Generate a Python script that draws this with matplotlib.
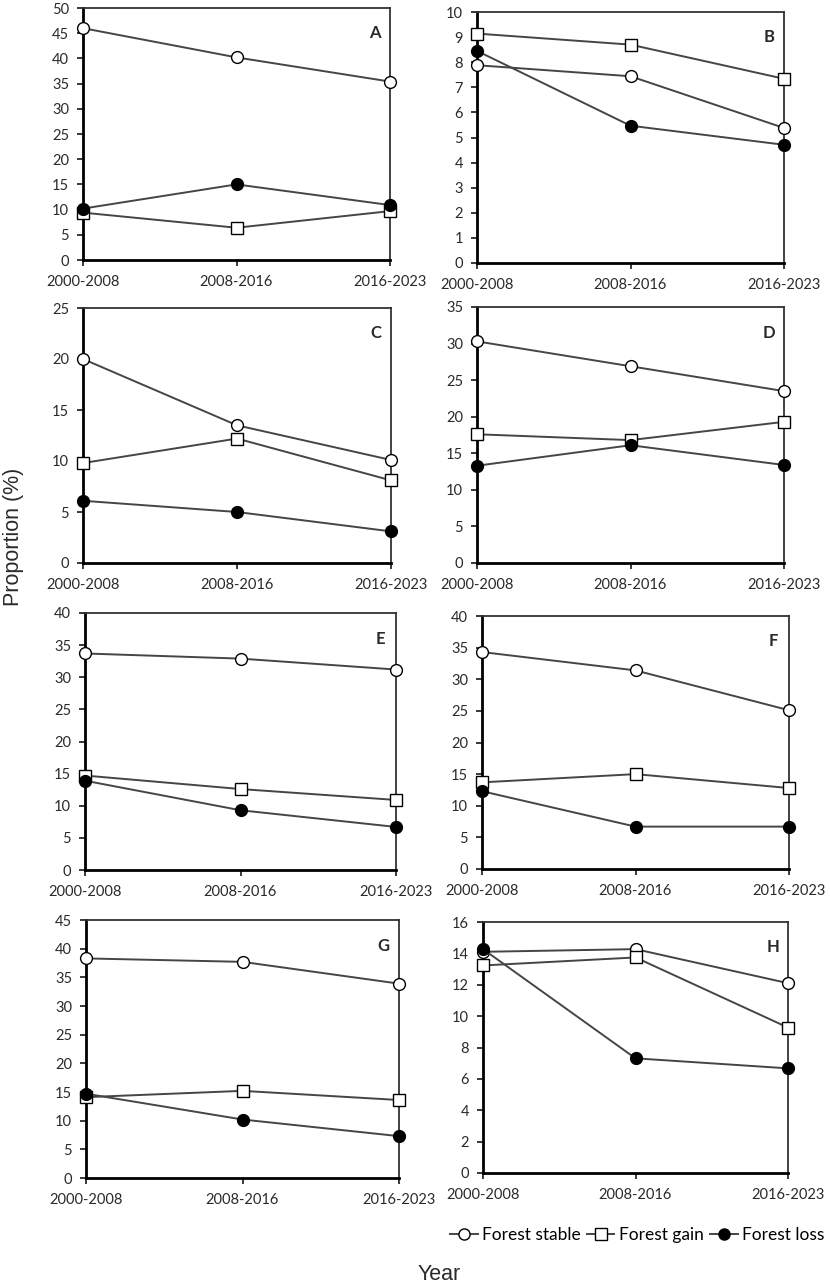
import matplotlib
matplotlib.use('Agg')
import matplotlib.pyplot as plt
from matplotlib.lines import Line2D

periods = ['2000-2008', '2008-2016', '2016-2023']
panels = ['A', 'B', 'C', 'D', 'E', 'F', 'G', 'H']

# forest stable / gain / loss (%) per panel
stable = {
    'A': [46.0, 40.2, 35.4],
    'B': [7.88, 7.44, 5.38],
    'C': [20.0, 13.5, 10.1],
    'D': [30.3, 26.9, 23.5],
    'E': [33.7, 32.9, 31.2],
    'F': [34.3, 31.4, 25.1],
    'G': [38.3, 37.7, 33.9],
    'H': [14.1, 14.27, 12.1],
}
gain = {
    'A': [9.4, 6.4, 9.7],
    'B': [9.14, 8.70, 7.34],
    'C': [9.8, 12.2, 8.1],
    'D': [17.6, 16.8, 19.3],
    'E': [14.7, 12.6, 10.9],
    'F': [13.7, 15.0, 12.8],
    'G': [14.1, 15.2, 13.6],
    'H': [13.23, 13.74, 9.27],
}
loss = {
    'A': [10.2, 15.0, 10.9],
    'B': [8.45, 5.47, 4.71],
    'C': [6.1, 5.0, 3.1],
    'D': [13.3, 16.1, 13.4],
    'E': [13.9, 9.3, 6.7],
    'F': [12.3, 6.7, 6.7],
    'G': [14.7, 10.2, 7.3],
    'H': [14.27, 7.31, 6.67],
}
ymax = {'A': 50, 'B': 10, 'C': 25, 'D': 35, 'E': 40, 'F': 40, 'G': 45, 'H': 16}
ystep = {'A': 5, 'B': 1, 'C': 5, 'D': 5, 'E': 5, 'F': 5, 'G': 5, 'H': 2}

# axes boxes in pixels: left, right, top, bottom
boxes = {
    'A': (83, 390, 8, 260),
    'B': (477, 784, 12, 263),
    'C': (83, 391, 308, 563),
    'D': (477, 784, 307, 563),
    'E': (85, 396, 613, 870),
    'F': (482, 789, 616, 869),
    'G': (86, 399, 920, 1178),
    'H': (483, 788, 922, 1173),
}

W, H = 830, 1287
fig = plt.figure(figsize=(W / 100, H / 100), dpi=100)
tickfont = 'Lato'
line_col = '#454545'
txt_col = '#2a2a2a'

x = list(range(len(periods)))
for p in panels:
    l, r, t, b = boxes[p]
    ax = fig.add_axes([l / W, 1 - b / H, (r - l) / W, (b - t) / H])
    ax.plot(x, stable[p], '-o', color=line_col, lw=1.4, mfc='white', mec='black',
            mew=1.0, ms=8.5, clip_on=False, zorder=3)
    ax.plot(x, gain[p], '-s', color=line_col, lw=1.4, mfc='white', mec='black',
            mew=1.0, ms=8.5, clip_on=False, zorder=4)
    ax.plot(x, loss[p], '-o', color=line_col, lw=1.4, mfc='black', mec='black',
            mew=1.0, ms=8.5, clip_on=False, zorder=5)
    ax.set_xlim(0, 2)
    ax.set_ylim(0, ymax[p])
    ax.set_yticks(range(0, ymax[p] + 1, ystep[p]))
    ax.set_xticks(x)
    ax.set_xticklabels(periods)
    for s in ['left', 'bottom']:
        ax.spines[s].set_linewidth(2.0)
    for s in ['top', 'right']:
        ax.spines[s].set_linewidth(1.3)
        ax.spines[s].set_color('#333333')
    ax.tick_params(axis='both', direction='out', length=4, width=1.3,
                   labelsize=10.5, colors=txt_col)
    ax.tick_params(axis='y', pad=6)
    ax.tick_params(axis='x', pad=7)
    for lab in ax.get_xticklabels() + ax.get_yticklabels():
        lab.set_family(tickfont)
    ax.text(0.95, 0.9, p, transform=ax.transAxes, ha='center', va='center',
            fontsize=12, fontweight='bold', family=tickfont, color=txt_col)

fig.text(14 / W, 1 - 537 / H, 'Proportion (%)', rotation=90, ha='center',
         va='center', fontsize=15.5, family='Liberation Sans', color=txt_col)
fig.text(439 / W, 1 - 1275 / H, 'Year', ha='center', va='center',
         fontsize=15.5, family='Liberation Sans', color=txt_col)

handles = [
    Line2D([], [], color=line_col, marker='o', mfc='white', mec='black', ms=8, lw=1.4),
    Line2D([], [], color=line_col, marker='s', mfc='white', mec='black', ms=8, lw=1.4),
    Line2D([], [], color=line_col, marker='o', mfc='black', mec='black', ms=8, lw=1.4),
]
fig.legend(handles, ['Forest stable', 'Forest gain', 'Forest loss'],
           loc='center', bbox_to_anchor=(637 / W, 1 - 1235 / H), ncol=3,
           frameon=False, handlelength=1.6, handletextpad=0.25, columnspacing=0.35,
           prop={'family': tickfont, 'size': 12.5})

fig.savefig('out.png', dpi=100)
